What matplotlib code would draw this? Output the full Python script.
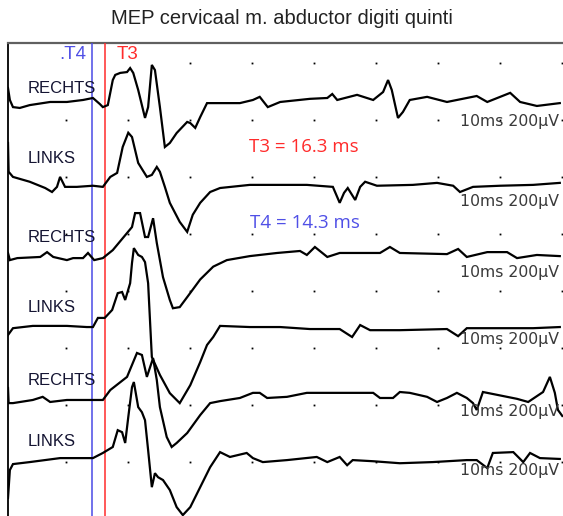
import matplotlib.pyplot as plt

# chart text
title = "MEP cervicaal m. abductor digiti quinti"
sides = ["RECHTS", "LINKS", "RECHTS", "LINKS", "RECHTS", "LINKS"]
scale_label = "10ms 200\u00b5V"
t4_ms = 14.3
t3_ms = 16.3

# traces: (time in ms, amplitude in uV relative to the trace baseline)
trace1 = [(0.7, 49), (1.0, 7), (1.5, -18), (2.6, -21), (4.2, -11), (7.5, 0), (10.2, 0),
          (12.8, 7), (14.4, 14), (15.5, -7), (16.0, -18), (16.8, -11), (17.6, 77), (18.0, 95),
          (18.8, 102), (19.9, 105), (20.4, 119), (20.9, 102), (21.7, 42), (22.8, -56),
          (23.3, -18), (23.9, 130), (24.4, 112), (25.2, -18), (26.0, -158), (26.8, -144),
          (27.9, -109), (29.6, -70), (30.1, -74), (30.9, -91), (31.7, -53), (32.8, -4),
          (38.1, -4), (40.2, 7), (41.3, 18), (42.6, -18), (44.6, 0), (49.4, 11), (52.2, 14),
          (53.0, 28), (53.8, 7), (57.0, 25), (59.6, 7), (61.2, 35), (62.0, 77), (62.6, 42),
          (63.6, -56), (64.4, -35), (65.5, 7), (68.3, 18), (71.5, 0), (76.3, 21), (78.0, 0),
          (81.7, 32), (83.3, 0), (86.0, -14), (89.7, -4)]
trace2 = [(0.7, 154), (0.8, 53), (1.5, 35), (4.2, 18), (6.7, -4), (7.8, -18), (8.6, 0),
          (9.1, 35), (9.9, 0), (11.8, 0), (14.4, 4), (16.0, 0), (17.2, 35), (18.3, 49),
          (19.2, 140), (20.1, 190), (20.7, 175), (21.7, 84), (23.1, 35), (23.9, 42), (24.7, 70),
          (25.2, 53), (26.0, 0), (26.8, -56), (28.4, -123), (29.6, -158), (30.5, -98),
          (31.7, -56), (33.3, -18), (34.9, -4), (39.7, 7), (48.9, 7), (53.1, 0), (54.2, -56),
          (54.9, -21), (55.5, -4), (56.7, -46), (57.5, 0), (58.3, 18), (60.2, 4), (66.0, 7),
          (69.9, 14), (72.5, 4), (73.6, -18), (75.7, 0), (80.1, 4), (85.4, 7), (89.7, 14)]
trace3 = [(0.7, 18), (1.0, -7), (2.2, 0), (5.9, 4), (7.0, 21), (8.0, 4), (10.2, -7),
          (11.2, 0), (12.8, 0), (13.6, 18), (14.6, -7), (16.0, 0), (17.6, 28), (19.9, 88),
          (20.7, 109), (21.2, 158), (22.0, 158), (22.8, 74), (23.3, 74), (24.1, 140),
          (24.7, 53), (25.7, -67), (26.8, -147), (27.3, -176), (28.4, -172), (29.6, -137),
          (31.7, -75), (33.8, -30), (36.0, -7), (39.7, 7), (44.1, 18), (47.8, 25), (48.9, 11),
          (50.2, 39), (52.2, 4), (54.2, 18), (60.7, 18), (62.3, 39), (63.9, 18), (71.5, 14),
          (73.3, 32), (74.7, 4), (78.0, 21), (81.2, 21), (82.8, 0), (86.0, 11), (89.7, 7)]
trace4 = [(0.7, -28), (1.5, -4), (4.7, 4), (10.2, 4), (13.4, 0), (14.4, 0), (15.2, 32),
          (16.3, 32), (17.5, 60), (18.4, 119), (19.1, 123), (19.6, 95), (20.4, 154),
          (20.7, 225), (21.0, 277), (21.7, 253), (22.3, 246), (22.8, 228), (23.3, 154),
          (23.9, -105), (25.2, -168), (26.8, -232), (28.4, -267), (30.1, -204), (31.7, -123),
          (32.8, -63), (33.8, -35), (34.9, 4), (39.7, 0), (44.6, 0), (49.4, -7), (54.2, -7),
          (56.2, -35), (57.5, 7), (59.1, -11), (63.9, -11), (71.5, -7), (73.3, -32),
          (74.7, -4), (80.1, -4), (85.4, -4), (89.7, 0)]
trace5 = [(0.7, 42), (0.8, -11), (1.5, -11), (4.7, 0), (6.3, 11), (7.5, -7), (10.2, 0),
          (14.6, 0), (16.0, 0), (17.2, 35), (19.9, 81), (21.5, 165), (22.3, 158), (23.1, 81),
          (24.1, 147), (24.7, 70), (25.2, -25), (26.3, -130), (27.1, -165), (27.9, -151),
          (29.6, -116), (31.7, -53), (33.3, -11), (34.9, -4), (38.1, 7), (40.2, 25), (41.3, 25),
          (42.5, 7), (45.7, 11), (48.9, 25), (59.6, 25), (60.7, 7), (62.8, 7), (63.9, 28),
          (65.5, 25), (68.3, 11), (69.9, -7), (71.5, 7), (73.1, 25), (74.7, 7), (75.7, -11),
          (76.3, -35), (77.3, 28), (79.6, 18), (82.8, 4), (84.6, -7), (87.0, 28), (88.1, 81),
          (88.9, 25), (89.4, -35), (90.1, -56)]
trace6 = [(0.7, -133), (1.0, -35), (1.5, -14), (4.2, -7), (9.1, 7), (14.4, 7), (16.0, 25),
          (17.6, 46), (18.4, 105), (19.1, 98), (19.6, 60), (20.1, 151), (20.7, 256),
          (21.0, 274), (21.7, 186), (22.3, 168), (22.8, 140), (23.3, 35), (23.9, -95),
          (24.4, -46), (24.9, -60), (25.7, -70), (26.8, -105), (27.9, -165), (28.9, -193),
          (30.1, -165), (31.7, -95), (33.3, -25), (34.9, 28), (36.5, 11), (39.2, 25),
          (40.2, 7), (41.8, -7), (45.7, 0), (50.5, 11), (52.2, -7), (54.2, 11), (55.4, -18),
          (56.3, 0), (59.6, -4), (63.9, -11), (69.2, -7), (74.7, 0), (76.3, 0), (78.0, -28),
          (78.9, 25), (82.2, 28), (83.8, -7), (84.9, 25), (86.5, 7), (89.7, 4)]
traces = [trace1, trace2, trace3, trace4, trace5, trace6]

# layout (uV below the top of the frame)
baselines = [-207, -505, -755, -997, -1253, -1464]
side_y = [-158, -404, -681, -927, -1183, -1400]
scale_y = [-277, -558, -804, -1042, -1295, -1499]

fig = plt.figure(figsize=(5.63, 5.16), dpi=100)
ax = fig.add_axes([8 / 563, -44 / 516, 580 / 563, 517 / 516])
ax.set_xlim(0.7, 0.7 + 580 / 6.2)
ax.set_ylim(-517 * 3.51, 0)
ax.set_xticks([])
ax.set_yticks([])
for s in ("right", "bottom"):
    ax.spines[s].set_visible(False)
ax.spines["top"].set_color("#606060")
ax.spines["top"].set_linewidth(1.6)
ax.spines["left"].set_color("black")
ax.spines["left"].set_linewidth(1.3)

# grid dots: every 10 ms and 200 uV
for r in range(9):
    for c in range(1, 10):
        if r == 0 and c < 3:
            continue
        ax.plot(c * 10, -70 - 200 * r, marker="s", ms=1.3, mew=0, color="black",
                linestyle="none", zorder=2)

# cursors
ax.axvline(t4_ms, color="#4a4ae6", lw=1.1, zorder=3)
ax.axvline(t3_ms, color="#ff2b2b", lw=1.1, zorder=3)

for tr, base in zip(traces, baselines):
    ts = [p[0] for p in tr]
    vs = [base + p[1] for p in tr]
    ax.plot(ts, vs, color="black", lw=1.6, zorder=4, solid_joinstyle="miter")

for name, y in zip(sides, side_y):
    ax.text(3.9, y, name, fontsize=12, family="Liberation Sans", color="#141432",
            va="center", ha="left", zorder=5)
for y in scale_y:
    ax.text(73.6, y, scale_label, fontsize=11.3, family="DejaVu Sans", color="#3a3a3a",
            va="center", ha="left", zorder=5)

ax.text(8.9, -42, ".T4", fontsize=13.5, family="Liberation Sans", color="#5050e6",
        va="center", ha="left", zorder=5)
ax.text(18.3, -42, "T3", fontsize=13.5, family="Liberation Sans", color="#ff2b2b",
        va="center", ha="left", zorder=5)
ax.text(39.6, -365, "T3 = %.1f ms" % t3_ms, fontsize=13.5, family="Open Sans",
        color="#ff2b2b", va="center", ha="left", zorder=5)
ax.text(39.7, -632, "T4 = %.1f ms" % t4_ms, fontsize=13.5, family="Open Sans",
        color="#5050e6", va="center", ha="left", zorder=5)

fig.text(0.500, 1 - 18 / 516, title, fontsize=14.5, family="Liberation Sans",
         color="#222222", ha="center", va="center")

fig.savefig("out.png", dpi=100)
